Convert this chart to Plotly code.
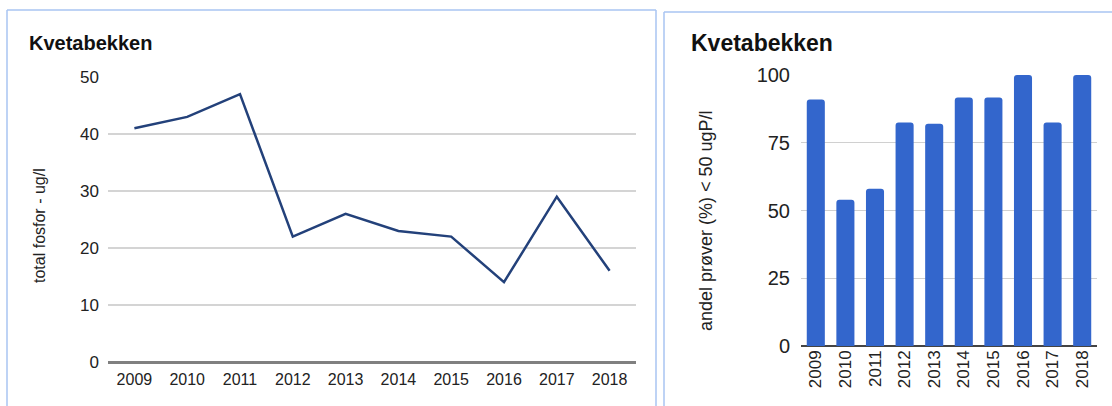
import plotly.graph_objects as go

years = ["2009", "2010", "2011", "2012", "2013", "2014", "2015", "2016", "2017", "2018"]
fosfor = [41, 43, 47, 22, 26, 23, 22, 14, 29, 16]
andel = [91, 54, 58, 82.5, 82, 91.7, 91.7, 100, 82.5, 100]

W, H = 1112, 406
def px(x):
    return x / W
def py(y):
    return 1 - y / H

FONT = "Liberation Sans, Arial, sans-serif"

fig = go.Figure()
fig.add_trace(go.Scatter(
    x=years, y=fosfor, mode="lines",
    line=dict(color="#23417a", width=2.5),
    xaxis="x", yaxis="y", showlegend=False,
))
fig.add_trace(go.Bar(
    x=years, y=andel,
    marker=dict(color="#3366cc", cornerradius=3, line=dict(width=0)),
    xaxis="x2", yaxis="y2", showlegend=False,
))

fig.update_layout(
    template="none",
    width=W, height=H,
    margin=dict(l=0, r=0, t=0, b=0, pad=0),
    paper_bgcolor="white", plot_bgcolor="white",
    font=dict(family=FONT, color="#222222"),
    bargap=0.39,
    xaxis=dict(
        domain=[px(108), px(636)], anchor="y", type="category", automargin=False,
        range=[-0.5, 9.5], showgrid=False, ticks="", showline=False, zeroline=False,
        ticklabelstandoff=6,
        tickfont=dict(size=16, color="#222222"),
    ),
    yaxis=dict(
        domain=[py(362), py(77)], anchor="x", range=[0, 50], automargin=False,
        tickvals=[0, 10, 20, 30, 40, 50],
        showgrid=True, gridcolor="#d4d4d4", gridwidth=1.5, zeroline=True,
        zerolinecolor="#808080", zerolinewidth=2.5,
        ticks="", showline=False, ticklabelstandoff=8,
        tickfont=dict(size=17, color="#222222"),
    ),
    xaxis2=dict(
        domain=[px(801), px(1097)], anchor="y2", type="category", automargin=False,
        range=[-0.5, 9.5], showgrid=False, ticks="", showline=False, zeroline=False,
        tickangle=-90, tickfont=dict(size=17, color="#222222"),
    ),
    yaxis2=dict(
        domain=[py(346), py(75)], anchor="x2", range=[0, 100], automargin=False,
        tickvals=[0, 25, 50, 75, 100],
        showgrid=True, gridcolor="#d0d0d0", gridwidth=1, zeroline=True,
        zerolinecolor="#444444", zerolinewidth=1.5,
        ticks="", showline=False, ticklabelstandoff=10,
        tickfont=dict(size=20, color="#222222"),
    ),
)

annotations = [
    dict(text="<b>Kvetabekken</b>", x=px(27), y=py(43), xanchor="left", yanchor="middle",
         font=dict(size=20, color="#111111")),
    dict(text="<b>Kvetabekken</b>", x=px(689), y=py(43), xanchor="left", yanchor="middle",
         font=dict(size=23, color="#111111")),
    dict(text="total fosfor - ug/l", x=px(39), y=py(226), textangle=-90,
         xanchor="center", yanchor="middle", font=dict(size=16, color="#222222")),
    dict(text="andel prøver (%) < 50 ugP/l", x=px(706), y=py(221), textangle=-90,
         xanchor="center", yanchor="middle", font=dict(size=18, color="#222222")),
]
for a in annotations:
    a.update(xref="paper", yref="paper", showarrow=False)
fig.update_layout(annotations=annotations)

border = "#a9c5f2"
shapes = [
    dict(type="line", x0=px(7), x1=px(7), y0=py(10), y1=py(410)),
    dict(type="line", x0=px(7), x1=px(656), y0=py(10), y1=py(10)),
    dict(type="line", x0=px(656), x1=px(656), y0=py(10), y1=py(410)),
    dict(type="line", x0=px(664), x1=px(664), y0=py(12), y1=py(410)),
    dict(type="line", x0=px(664), x1=px(1115), y0=py(12), y1=py(12)),
]
for s in shapes:
    s.update(xref="paper", yref="paper", line=dict(color=border, width=1.5), layer="above")
fig.update_layout(shapes=shapes)

fig.write_html("out.html", config={"displayModeBar": False},
               post_script="document.body.style.margin='0';")
